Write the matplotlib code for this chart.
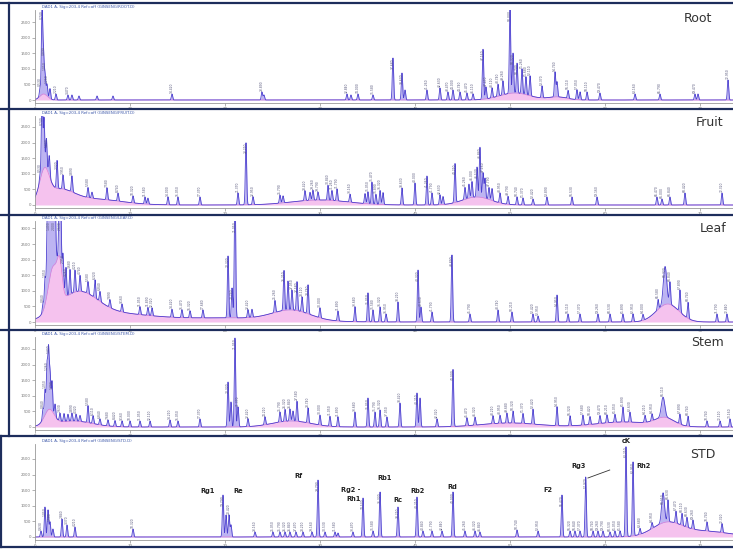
import numpy as np
import matplotlib.pyplot as plt
from matplotlib.lines import Line2D

# retention time (min), peak height (px of panel), optional width (min)
root_peaks = [(0.53, 8), (0.74, 83), (0.89, 38), (1.05, 20), (1.26, 12), (1.58, 10), (2.21, 6),
              (3.47, 5), (3.89, 5), (4.63, 4), (6.53, 4), (8.21, 4), (14.42, 6), (23.89, 8),
              (24.10, 5), (32.84, 6), (33.26, 5), (34.00, 6), (35.58, 5), (37.68, 42), (38.63, 27),
              (38.95, 10), (41.26, 10), (42.63, 12), (43.47, 8), (44.00, 10), (44.74, 8), (45.47, 7),
              (46.11, 6), (47.16, 50), (47.47, 12), (48.11, 10), (48.74, 12), (49.26, 14), (50.00, 88),
              (50.32, 40), (50.74, 30), (51.26, 25), (51.68, 18), (52.11, 20), (53.37, 12), (54.74, 25),
              (54.95, 15), (56.11, 8), (57.05, 10), (57.37, 8), (58.11, 8), (59.47, 7), (63.16, 6),
              (65.79, 6), (69.47, 6), (69.79, 6), (72.95, 20)]
root_base = [(0.9, 6, 0.4), (50.5, 7, 1.6), (55.0, 3, 1.0)]

fruit_peaks = [(0.53, 6), (0.74, 87), (0.95, 50), (1.20, 30), (1.50, 20), (2.32, 28),
               (2.95, 14), (3.89, 16), (5.58, 10), (6.00, 6), (7.58, 12),
               (8.74, 8), (10.32, 7), (11.58, 7), (11.89, 6), (14.00, 8), (15.05, 8), (17.37, 8),
               (21.37, 12), (22.21, 62), (22.95, 8), (25.79, 8), (26.11, 7), (28.42, 10), (28.95, 8),
               (29.26, 10), (29.79, 8), (30.84, 15), (31.26, 10), (31.79, 12), (33.16, 8), (34.74, 10),
               (35.05, 12), (35.47, 22), (35.89, 10), (36.32, 14), (36.63, 12), (38.63, 17), (40.00, 22),
               (41.26, 29), (41.79, 12), (42.63, 10), (42.95, 8), (44.21, 39), (45.26, 12), (45.68, 14),
               (46.00, 16), (46.53, 30), (46.84, 50), (47.16, 25), (47.37, 20), (47.79, 12), (48.11, 12),
               (48.95, 10), (49.79, 8), (50.74, 8), (51.37, 7), (52.42, 6), (53.89, 8), (56.53, 8),
               (59.16, 8), (65.47, 8), (66.00, 6), (66.84, 8), (68.42, 12), (72.32, 12)]
fruit_base = [(1.0, 28, 0.5), (2.5, 13, 1.5), (6.0, 6, 3.0), (30.0, 5, 3.0), (46.5, 8, 1.5)]

leaf_peaks = [(0.84, 8), (1.05, 25), (1.40, 140, 0.12), (1.70, 130, 0.12), (2.00, 130, 0.12),
              (2.63, 130, 0.09), (2.95, 30), (3.26, 28), (3.68, 25), (4.21, 22), (4.74, 16), (5.58, 12),
              (6.32, 18), (6.84, 10), (7.89, 8), (9.16, 8), (11.05, 8), (11.89, 8), (12.32, 8), (14.42, 8),
              (15.47, 8), (16.32, 7), (17.68, 8), (20.32, 62), (20.74, 30), (21.05, 140), (22.42, 8),
              (22.84, 8), (25.26, 12), (26.21, 40), (26.63, 29), (27.05, 20), (27.58, 29), (28.11, 15),
              (28.74, 29), (30.00, 10), (31.89, 10), (33.68, 15), (35.05, 29), (35.58, 12), (36.32, 15),
              (36.95, 8), (38.21, 20), (40.32, 52), (40.63, 15), (41.79, 10), (43.89, 67), (45.79, 8),
              (48.74, 12), (50.21, 10), (52.42, 8), (52.95, 6), (54.95, 27), (56.11, 8), (57.37, 8),
              (59.26, 8), (60.53, 8), (61.89, 8), (62.95, 8), (64.00, 6), (65.58, 10), (66.32, 38, 0.18),
              (66.84, 22), (67.89, 22), (68.74, 16), (71.79, 8), (72.84, 8)]
leaf_base = [(1.9, 42, 0.5), (2.6, 30, 0.25), (4.5, 25, 2.0), (8.0, 8, 4.0), (20.0, 4, 6.0),
             (27.0, 10, 2.0), (66.6, 18, 1.2)]

stem_peaks = [(0.84, 10), (1.05, 25), (1.26, 45), (1.42, 59), (1.58, 37), (1.79, 30), (2.11, 12),
              (2.63, 8), (3.05, 8), (3.47, 7), (3.89, 8), (4.32, 7), (4.74, 6), (5.58, 17), (6.11, 8),
              (6.84, 6), (7.68, 6), (8.42, 6), (9.16, 6), (10.00, 6), (11.05, 6), (12.11, 6),
              (14.21, 7), (15.05, 6), (17.37, 8), (20.32, 45), (20.63, 25), (21.05, 89), (21.37, 20),
              (22.42, 8), (24.21, 8), (25.79, 10), (26.32, 12), (26.84, 12), (27.16, 10), (27.58, 20),
              (28.74, 15), (30.00, 10), (31.05, 10), (31.89, 10), (33.68, 15), (35.05, 29), (35.79, 15),
              (36.32, 17), (37.05, 10), (38.42, 24), (40.21, 34), (40.53, 29), (42.32, 8), (44.00, 57),
              (45.47, 8), (46.32, 8), (48.21, 8), (48.95, 8), (49.68, 10), (50.32, 12), (51.37, 10),
              (52.42, 15), (54.95, 19), (56.32, 10), (57.68, 10), (58.42, 8), (59.47, 8), (60.21, 8),
              (61.05, 8), (61.89, 15), (62.63, 10), (64.21, 7), (64.95, 7), (66.11, 20, 0.18), (67.89, 10),
              (68.74, 10), (70.74, 6), (72.11, 6), (73.16, 8)]
stem_base = [(1.5, 15, 0.5), (4.0, 6, 2.0), (27.0, 6, 2.0), (50.0, 4, 3.0), (62.0, 5, 3.0),
             (66.3, 8, 1.0)]

std_peaks = [(0.63, 6), (1.05, 30), (1.37, 27), (1.58, 15), (1.89, 8), (2.84, 18), (3.37, 12),
             (4.21, 10), (10.32, 8), (19.79, 42), (20.11, 22), (20.42, 22), (20.63, 12), (23.16, 5),
             (25.05, 5), (25.79, 5), (26.32, 5), (26.84, 5), (27.47, 5), (28.21, 5), (29.16, 5),
             (29.79, 57), (30.53, 5), (31.58, 5), (31.89, 4), (33.47, 5), (34.53, 39), (35.58, 6),
             (36.32, 45), (38.21, 30), (40.21, 40), (40.84, 6), (41.79, 6), (42.84, 6), (44.00, 45),
             (45.26, 6), (46.32, 6), (46.84, 5), (50.74, 7), (52.95, 6), (55.47, 42), (56.32, 6),
             (56.84, 6), (57.37, 6), (57.97, 60), (58.74, 6), (59.26, 6), (59.79, 6), (60.53, 5),
             (61.05, 6), (61.58, 6), (62.21, 90), (62.95, 74), (63.68, 6), (64.95, 6), (66.11, 30, 0.15),
             (66.63, 22), (67.47, 12), (68.11, 12), (68.63, 10), (69.26, 9), (70.74, 9), (72.32, 9)]
std_base = [(66.5, 12, 1.5), (70.0, 6, 3.0)]

# standard compound names and where their labels sit (min, px above baseline)
std_names = ["Rg1", "Re", "Rf", "Rg2 -", "Rh1", "Rb1", "Rc", "Rb2", "Rd", "F2", "Rg3", "cK", "Rh2"]
std_name_rt = [18.2, 21.4, 27.7, 34.3, 34.3, 36.8, 38.2, 40.3, 43.9, 54.0, 57.2, 62.2, 63.35]
std_name_h = [46, 46, 61, 47, 38, 59, 37, 46, 50, 47, 71, 96, 71]

sample_names = ["Root", "Fruit", "Leaf", "Stem", "STD"]
sample_peaks = [root_peaks, fruit_peaks, leaf_peaks, stem_peaks, std_peaks]
sample_base = [root_base, fruit_base, leaf_base, stem_base, std_base]

W, H = 733, 549
X0, PXMIN = 35, 9.5
# (plot top, baseline) in pixels for each panel
geom = [(10, 100), (116, 205), (221, 322), (337, 427), (444, 537)]
frames = [(3, 109), (109, 215), (215, 330), (330, 436), (436, 547)]
left_edge = [9, 9, 9, 9, 1]
name_pos = [(698, 19), (710, 123), (713, 228), (707, 342), (703, 455)]

PEAK_W = 0.07
LINE = '#4b3fcf'
FILL = '#bdb4f2'
PINK = '#f5c2ee'
NAVY = '#1d2d5c'


def gauss_sum(t, items):
    y = np.zeros_like(t)
    for item in items:
        rt, h = item[0], item[1]
        w = item[2] if len(item) > 2 else PEAK_W
        y += h * np.exp(-0.5 * ((t - rt) / w) ** 2)
    return y


def label_peaks(ax, peaks, t, trace, ymax):
    # retention-time labels, tallest first, skipping ones that would collide
    boxes = []
    for p in sorted(peaks, key=lambda p: -p[1]):
        rt, h = p[0], p[1]
        if h < 5:
            continue
        top = min(np.interp(rt, t, trace), ymax)
        if h > 25:
            y0, y1, va, y = top - 12, top, 'top', top
        else:
            y0, y1, va, y = top + 1, top + 13, 'bottom', top + 1
        if y1 > ymax:
            continue
        if any(abs(rt - bx) < 0.42 and y0 < b1 and y1 > b0 for bx, b0, b1 in boxes):
            continue
        boxes.append((rt, y0, y1))
        ax.text(rt, y, f"{rt:.3f}", rotation=90, fontsize=2.2, color='#55557a',
                ha='center', va=va, clip_on=True)


fig = plt.figure(figsize=(W / 100, H / 100), dpi=100)
t = np.linspace(-0.5, 75, 9000)
xmax = (W - X0) / PXMIN

for i, name in enumerate(sample_names):
    top, base = geom[i]
    ax = fig.add_axes([X0 / W, (H - base - 3) / H, 1 - X0 / W, (base + 3 - top) / H])
    baseline = gauss_sum(t, sample_base[i])
    trace = baseline + gauss_sum(t, sample_peaks[i])
    ax.fill_between(t, 0, baseline, color=PINK, lw=0)
    ax.fill_between(t, baseline, trace, color=FILL, lw=0)
    ax.plot(t, baseline, color='#e07ad6', lw=0.5)
    ax.plot(t, trace, color=LINE, lw=0.6)
    ymax = base - top
    label_peaks(ax, sample_peaks[i], t, trace, ymax)
    ax.set_xlim(0, xmax)
    ax.set_ylim(-3, ymax)
    ax.set_xticks(np.arange(0, 80, 10))
    ax.set_xticklabels([str(v) for v in range(0, 80, 10)])
    yt = np.arange(0, ymax, 15.6)
    ax.set_yticks(yt)
    ax.set_yticklabels([str(int(k * 500)) for k in range(len(yt))])
    ax.tick_params(labelsize=2.8, length=2, width=0.4, colors='#777777', pad=1)
    for s in ['top', 'right']:
        ax.spines[s].set_visible(False)
    for s in ['left', 'bottom']:
        ax.spines[s].set_color('#999999')
        ax.spines[s].set_linewidth(0.6)
    fig.text(42 / W, 1 - (top - 3) / H,
             f"DAD1 A, Sig=203,4 Ref=off (GINSENG\\{name.upper()}.D)",
             fontsize=2.8, color='#3a55a8', va='center')
    nx, ny = name_pos[i]
    fig.text(nx / W, 1 - ny / H, name, fontsize=9, color='#333333', ha='center', va='center')

    if name == "STD":
        for lab, rt, h in zip(std_names, std_name_rt, std_name_h):
            ha = 'center'
            if lab == "Rh2":
                ha = 'left'
            elif lab in ("Rg2 -", "Rh1"):
                ha = 'right'
            ax.text(rt, h, lab, fontsize=4.8, color='#222222', ha=ha, va='center',
                    fontweight='bold', clip_on=False)
        ax.plot([58.2, 60.5], [59, 67], color='#333333', lw=0.6)

    # screenshot frame around each panel
    f0, f1 = frames[i]
    fig.add_artist(Line2D([0, 1], [1 - f0 / H, 1 - f0 / H], transform=fig.transFigure,
                          color=NAVY, lw=1.6))
    lx = left_edge[i] / W
    fig.add_artist(Line2D([lx, lx], [1 - f0 / H, 1 - f1 / H], transform=fig.transFigure,
                          color=NAVY, lw=1.6))

fig.add_artist(Line2D([0, 1], [1 - 547 / H, 1 - 547 / H], transform=fig.transFigure,
                      color=NAVY, lw=1.6))

fig.savefig('out.png', dpi=100)
